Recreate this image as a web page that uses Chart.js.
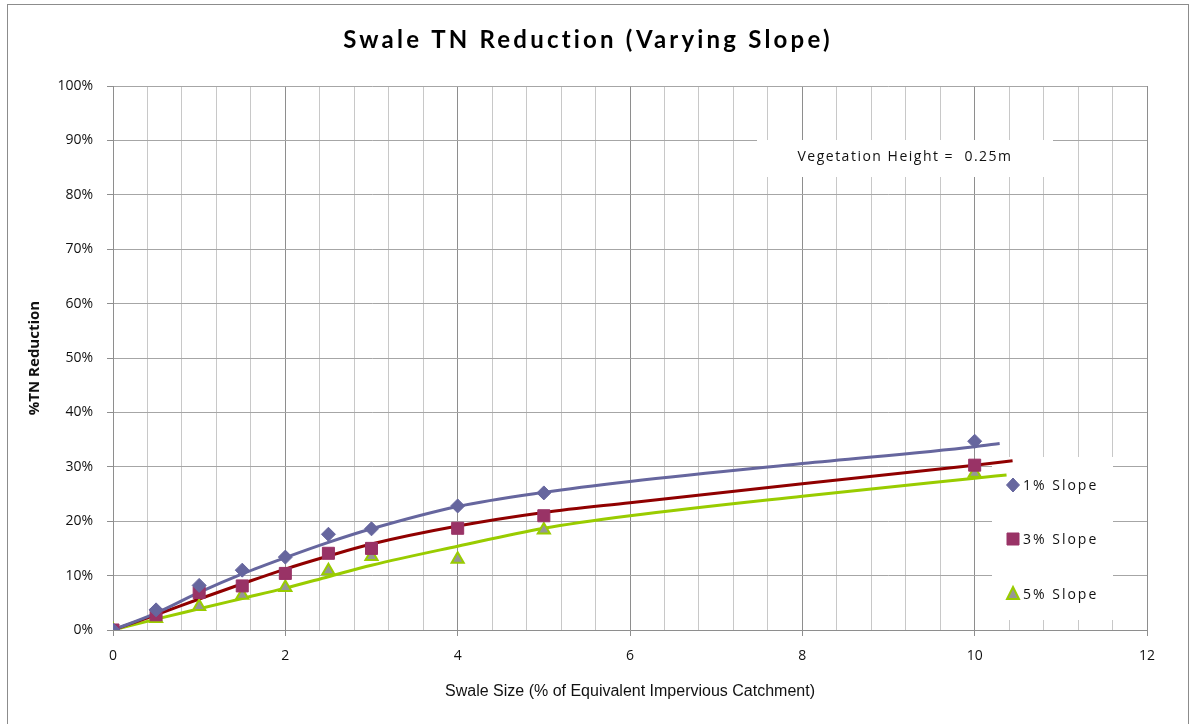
<!DOCTYPE html>
<html lang="en">
<head>
<meta charset="UTF-8">
<title>Swale TN Reduction (Varying Slope)</title>
<script src="https://cdn.jsdelivr.net/npm/chart.js"></script>
<style>
  html, body { margin: 0; padding: 0; background: #fff; }
</style>
</head>
<body>
<canvas id="myChart" width="1190" height="724"></canvas>
<script>
// measured points (x = swale size, y = % TN reduction)
const sizes = [0, 0.5, 1, 1.5, 2, 2.5, 3, 4, 5, 10];
const slope1 = [0, 3.7, 8.2, 11.0, 13.4, 17.6, 18.6, 22.8, 25.2, 34.7];
const slope3 = [0, 2.8, 6.9, 8.1, 10.4, 14.1, 15.0, 18.7, 21.0, 30.3];
const slope5 = [0, 2.1, 4.3, 6.4, 7.8, 10.9, 13.5, 13.0, 18.4, 28.8];

// trend lines
const trendX1 = [0, 0.5, 1, 1.5, 2, 2.5, 3, 4, 5, 6, 8, 10, 10.29];
const trend1 = [0, 3.1, 6.9, 10.3, 13.3, 16.1, 18.6, 22.7, 25.3, 27.3, 30.6, 33.7, 34.3];
const trendX3 = [0, 0.5, 1, 1.5, 2, 2.5, 3, 4, 5, 6, 8, 10, 10.44];
const trend3 = [0, 2.8, 5.7, 8.5, 11.2, 13.6, 15.8, 19.1, 21.6, 23.4, 26.9, 30.3, 31.1];
const trendX5 = [0, 0.5, 1, 1.5, 2, 2.5, 3, 4, 5, 6, 8, 10, 10.37];
const trend5 = [0, 2.0, 3.9, 5.8, 7.7, 9.8, 11.9, 15.4, 18.7, 21.0, 24.6, 27.9, 28.5];

const seriesNames = ['1% Slope', '3% Slope', '5% Slope'];
const xTicks = [0, 2, 4, 6, 8, 10, 12];
const yTicks = [0, 10, 20, 30, 40, 50, 60, 70, 80, 90, 100];

const pts = (xs, ys) => xs.map((x, i) => ({x: x, y: ys[i]}));
const isMajor = v => xTicks.some(t => Math.abs(t - v) < 1e-6);

const c1 = '#66669e', c3 = '#993366', c3line = '#900000', c5 = '#99cc00', c5fill = '#969696';

const markerStyles = [
  {shape: 'diamond', fill: c1, stroke: c1},
  {shape: 'square', fill: c3, stroke: c3},
  {shape: 'triangle', fill: c5fill, stroke: c5},
];

function drawMarker(ctx, m, x, y) {
  ctx.beginPath();
  if (m.shape === 'diamond') {
    ctx.moveTo(x, y - 7); ctx.lineTo(x + 6.5, y); ctx.lineTo(x, y + 7); ctx.lineTo(x - 6.5, y);
  } else if (m.shape === 'square') {
    ctx.rect(x - 6, y - 6, 12, 12);
  } else {
    ctx.moveTo(x, y - 7); ctx.lineTo(x + 6, y + 5); ctx.lineTo(x - 6, y + 5);
  }
  ctx.closePath();
  ctx.fillStyle = m.fill;
  ctx.fill();
  ctx.lineWidth = m.shape === 'triangle' ? 2 : 1;
  ctx.strokeStyle = m.stroke;
  ctx.stroke();
}

const decorations = {
  id: 'decorations',
  beforeDatasetsDraw(chart) {
    const ctx = chart.ctx;
    ctx.save();
    // note box
    ctx.fillStyle = '#fff';
    ctx.fillRect(757, 140, 296, 37);
    ctx.fillStyle = '#111';
    ctx.font = '14px "Open Sans"';
    ctx.letterSpacing = '1.5px';
    ctx.textAlign = 'center';
    ctx.textBaseline = 'middle';
    ctx.fillText('Vegetation Height =  0.25m', 905, 157);
    // legend
    ctx.fillStyle = '#fff';
    ctx.fillRect(992, 457, 121, 163);
    ctx.textAlign = 'left';
    ctx.letterSpacing = '2px';
    [485, 539, 594].forEach((y, i) => {
      drawMarker(ctx, markerStyles[i], 1013, y);
      ctx.fillStyle = '#111';
      ctx.fillText(seriesNames[i], 1023, y + 1);
    });
    ctx.restore();
  },
  afterDraw(chart) {
    const ctx = chart.ctx;
    ctx.save();
    ctx.strokeStyle = '#8c8c8c';
    ctx.lineWidth = 1;
    ctx.strokeRect(7.5, 4.5, 1181, 730);
    ctx.fillStyle = '#000';
    ctx.font = 'bold 24px Lato';
    ctx.letterSpacing = '3.2px';
    ctx.textAlign = 'center';
    ctx.textBaseline = 'alphabetic';
    ctx.fillText('Swale TN Reduction (Varying Slope)', 588, 48);
    ctx.restore();
  }
};

const ctx = document.getElementById('myChart').getContext('2d');
const myChart = new Chart(ctx, {
  type: 'scatter',
  data: {
    datasets: [
      {label: seriesNames[0], data: pts(sizes, slope1), pointStyle: 'rectRot', pointRadius: 7, pointHoverRadius: 7,
       backgroundColor: c1, borderColor: c1, order: 0},
      {label: seriesNames[1], data: pts(sizes, slope3), pointStyle: 'rect', pointRadius: 8.5, pointHoverRadius: 8.5,
       backgroundColor: c3, borderColor: c3, order: 0},
      {label: seriesNames[2], data: pts(sizes, slope5), pointStyle: 'triangle', pointRadius: 7, pointHoverRadius: 7,
       backgroundColor: c5fill, borderColor: c5, borderWidth: 2, order: 0},
      {label: 'trend 1%', data: pts(trendX1, trend1), showLine: true, pointRadius: 0, borderColor: c1, borderWidth: 3,
       cubicInterpolationMode: 'monotone', order: 1},
      {label: 'trend 3%', data: pts(trendX3, trend3), showLine: true, pointRadius: 0, borderColor: c3line, borderWidth: 3,
       cubicInterpolationMode: 'monotone', order: 1},
      {label: 'trend 5%', data: pts(trendX5, trend5), showLine: true, pointRadius: 0, borderColor: c5, borderWidth: 3,
       cubicInterpolationMode: 'monotone', order: 1},
    ]
  },
  options: {
    responsive: false,
    animation: false,
    layout: {padding: {top: 86, right: 43, left: 0, bottom: 0}},
    plugins: {legend: {display: false}, tooltip: {enabled: false}},
    scales: {
      x: {
        type: 'linear', min: 0, max: 12,
        afterFit: s => { s.height = 94; },
        ticks: {stepSize: 0.4, autoSkip: false, maxRotation: 0, padding: 12, color: '#111',
                font: {family: '"Open Sans"', size: 14},
                callback: v => isMajor(v) ? String(Math.round(v)) : ''},
        grid: {color: c => (c.tick && isMajor(c.tick.value)) ? '#8e8e8e' : '#c8c8c8',
               tickColor: c => (c.tick && isMajor(c.tick.value)) ? '#8e8e8e' : 'rgba(0,0,0,0)',
               tickLength: 6},
        border: {color: '#8e8e8e'},
        title: {display: true, text: 'Swale Size (% of Equivalent Impervious Catchment)', color: '#111',
                font: {family: '"Liberation Sans"', size: 16}, padding: {top: 0, bottom: 23}}
      },
      y: {
        min: 0, max: 100,
        afterFit: s => { s.width = 113; },
        afterBuildTicks: s => { s.ticks = yTicks.map(v => ({value: v})); },
        ticks: {padding: 14, color: '#111', font: {family: '"Open Sans"', size: 14},
                callback: v => v + '%'},
        grid: {color: '#a6a6a6', tickColor: '#8e8e8e', tickLength: 6},
        border: {color: '#8e8e8e'},
        title: {display: true, text: '%TN Reduction', color: '#111',
                font: {family: '"Open Sans"', size: 15, weight: 'bold'}, padding: {top: 26, bottom: 0}}
      }
    }
  },
  plugins: [decorations]
});
</script>
</body>
</html>
